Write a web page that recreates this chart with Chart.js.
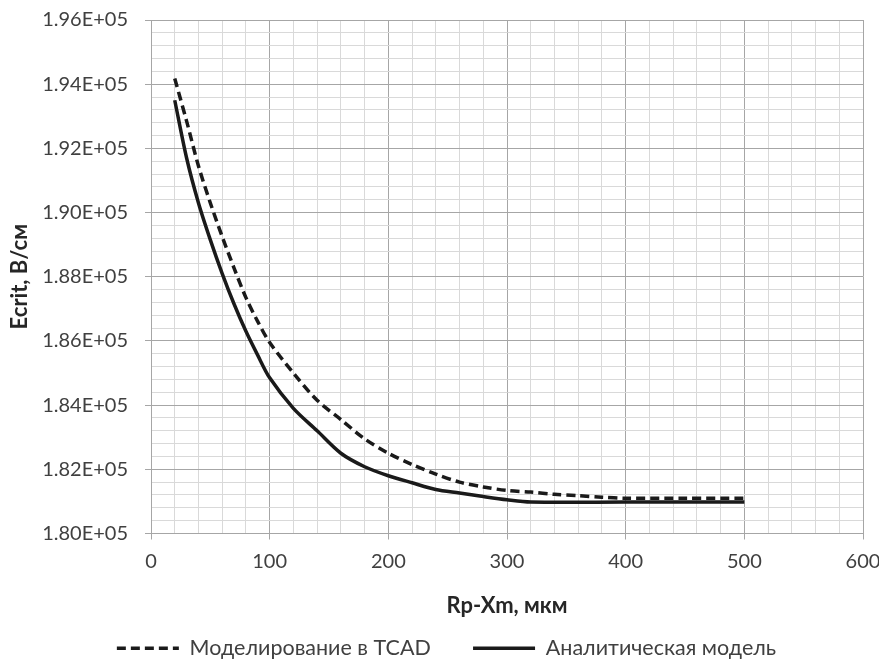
<!DOCTYPE html>
<html>
<head>
<meta charset="utf-8">
<script src="https://cdn.jsdelivr.net/npm/chart.js@4.4.1/dist/chart.umd.min.js"></script>
<style>
html, body { margin: 0; padding: 0; background: #fff; }
</style>
</head>
<body>
<canvas id="myChart" width="879" height="669"></canvas>
<script>
// values
var seriesNames = ['Моделирование в TCAD', 'Аналитическая модель'];

var xTcad = [20, 30, 40, 50, 60, 70, 80, 90, 100, 120, 140, 160, 180, 200, 220, 240, 260, 280, 300, 320, 340, 360, 380, 400, 450, 500];
var eTcad = [194180, 192850, 191450, 190300, 189250, 188270, 187350, 186600, 185950, 185000, 184150, 183550, 182950, 182500, 182150, 181850, 181600, 181450, 181340, 181290, 181220, 181180, 181130, 181100, 181100, 181100];

var xModel = [20, 30, 40, 50, 60, 70, 80, 90, 100, 120, 140, 160, 180, 200, 220, 240, 260, 280, 300, 320, 400, 500];
var eModel = [193500, 191700, 190300, 189150, 188100, 187150, 186300, 185550, 184850, 183900, 183200, 182500, 182080, 181800, 181580, 181370, 181260, 181150, 181050, 180980, 180980, 180980];

var xTickLabels = ['0', '100', '200', '300', '400', '500', '600'];
var yTickLabels = ['1.80E+05', '1.82E+05', '1.84E+05', '1.86E+05', '1.88E+05', '1.90E+05', '1.92E+05', '1.94E+05', '1.96E+05'];

var majorGrid = '#a6a6a6';
var minorGrid = '#d9d9d9';
var textColor = '#404040';
var fontName = "Lato, 'Open Sans', sans-serif";

// left page margin, pushes the legend a bit to the right like the original
var padLeft = 30;

var toPoints = function(xs, ys){
    return xs.map(function(x, i){
        return {x: x, y: ys[i]};
    });
}

var ctx = document.getElementById('myChart');
var myChart = new Chart(ctx, {
    type: 'line',
    data: {
        datasets: [{
            label: seriesNames[0],
            data: toPoints(xTcad, eTcad),
            borderColor: '#1a1a1a',
            borderWidth: 3.5,
            borderDash: [9, 5],
            pointRadius: 0,
            tension: 0.3,
            fill: false
        }, {
            label: seriesNames[1],
            data: toPoints(xModel, eModel),
            borderColor: '#1a1a1a',
            borderWidth: 3.5,
            pointRadius: 0,
            tension: 0.3,
            fill: false
        }]
    },
    options: {
        responsive: false,
        animation: false,
        devicePixelRatio: 1,
        layout: {
            padding: {top: 20, right: 16, left: padLeft, bottom: 0}
        },
        plugins: {
            tooltip: {enabled: false},
            legend: {
                position: 'bottom',
                labels: {
                    usePointStyle: true,
                    pointStyle: 'line',
                    pointStyleWidth: 62,
                    color: textColor,
                    padding: 10,
                    font: {family: fontName, size: 21.5},
                    generateLabels: function(chart){
                        var items = Chart.defaults.plugins.legend.labels.generateLabels(chart);
                        items.forEach(function(item, i){
                            var ds = chart.data.datasets[i];
                            item.lineDash = ds.borderDash || [];
                            item.lineWidth = ds.borderWidth;
                            item.strokeStyle = ds.borderColor;
                        });
                        items[0].text = items[0].text + '\u2003\u2003';
                        return items;
                    }
                }
            }
        },
        scales: {
            x: {
                type: 'linear',
                min: 0,
                max: 600,
                afterFit: function(s){
                    s.height = 94;
                    s.paddingLeft = 0;
                    s.paddingRight = 0;
                },
                ticks: {
                    stepSize: 20,
                    autoSkip: false,
                    maxRotation: 0,
                    padding: 10,
                    color: textColor,
                    font: {family: fontName, size: 20},
                    callback: function(v){
                        return v % 100 === 0 ? xTickLabels[v / 100] : '';
                    }
                },
                grid: {
                    color: function(c){ return c.tick && c.tick.value % 100 === 0 ? majorGrid : minorGrid; },
                    tickColor: function(c){ return c.tick && c.tick.value % 100 === 0 ? majorGrid : 'rgba(0,0,0,0)'; },
                    tickLength: 6
                },
                border: {color: majorGrid},
                title: {
                    display: true,
                    text: 'Rp-Xm, мкм',
                    color: '#262626',
                    font: {family: fontName, size: 22, weight: 'bold'},
                    padding: {top: 0, bottom: 8}
                }
            },
            y: {
                type: 'linear',
                min: 180000,
                max: 196000,
                afterFit: function(s){
                    s.width = 151 - padLeft;
                    s.paddingTop = 0;
                    s.paddingBottom = 0;
                },
                ticks: {
                    stepSize: 400,
                    autoSkip: false,
                    padding: 17,
                    color: textColor,
                    font: {family: fontName, size: 20},
                    callback: function(v){
                        var r = Math.round(v);
                        return r % 2000 === 0 ? yTickLabels[(r - 180000) / 2000] : '';
                    }
                },
                grid: {
                    color: function(c){ return c.tick && Math.round(c.tick.value) % 2000 === 0 ? majorGrid : minorGrid; },
                    tickColor: function(c){ return c.tick && Math.round(c.tick.value) % 2000 === 0 ? majorGrid : 'rgba(0,0,0,0)'; },
                    tickLength: 6
                },
                border: {color: majorGrid},
                title: {
                    display: true,
                    text: 'Ecrit, В/см',
                    color: '#262626',
                    font: {family: fontName, size: 22, weight: 'bold'},
                    padding: {top: 7 - padLeft, bottom: 0}
                }
            }
        }
    }
})
</script>
</body>
</html>
